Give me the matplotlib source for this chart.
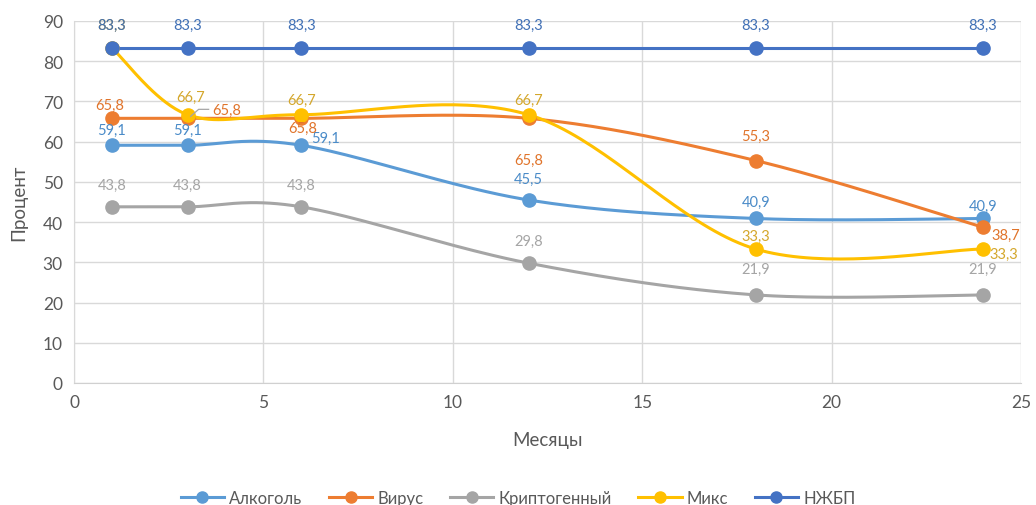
import numpy as np
import matplotlib
matplotlib.use("Agg")
import matplotlib.pyplot as plt
from matplotlib.lines import Line2D

plt.rcParams['font.family'] = ['Lato', 'DejaVu Sans']

# ---- data ----
months = [1, 3, 6, 12, 18, 24]
series_names = ["Алкоголь", "Вирус", "Криптогенный", "Микс", "НЖБП"]
alcohol = [59.1, 59.1, 59.1, 45.5, 40.9, 40.9]
virus = [65.8, 65.8, 65.8, 65.8, 55.3, 38.7]
cryptogenic = [43.8, 43.8, 43.8, 29.8, 21.9, 21.9]
mixed = [83.3, 66.7, 66.7, 66.7, 33.3, 33.3]
nafld = [83.3, 83.3, 83.3, 83.3, 83.3, 83.3]

line_colors = ["#5B9BD5", "#ED7D31", "#A5A5A5", "#FFC000", "#4472C4"]
label_colors = ["#4A8BC8", "#E0742B", "#A5A5A5", "#D4A72C", "#3F6FB5"]

# label offsets in pixels (dx, dy, horizontal alignment) per series / point
label_offsets = [
    [(0, 15, 'center'), (0, 15, 'center'), (10, 7, 'left'), (0, 21, 'center'), (0, 17, 'center'), (0, 13, 'center')],
    [(-2, 13, 'center'), (25, 8, 'left'), (1, -10, 'center'), (0, -42, 'center'), (0, 25, 'center'), (8, -8, 'left')],
    [(0, 22, 'center'), (0, 22, 'center'), (0, 22, 'center'), (0, 22, 'center'), (0, 26, 'center'), (0, 26, 'center')],
    [(0, 23, 'center'), (3, 18, 'center'), (0, 15, 'center'), (0, 15, 'center'), (0, 13, 'center'), (6, -5, 'left')],
    [(0, 23, 'center'), (0, 23, 'center'), (0, 23, 'center'), (0, 23, 'center'), (0, 23, 'center'), (0, 23, 'center')],
]


def smooth_curve(xs, ys, n=40):
    """Piecewise cubic Bezier through the points (Catmull-Rom style control points)."""
    P = np.column_stack([xs, ys]).astype(float)
    ext = np.vstack([P[0], P, P[-1]])
    out = []
    t = np.linspace(0, 1, n)[:, None]
    for i in range(len(P) - 1):
        p0, p3 = ext[i + 1], ext[i + 2]
        c1 = p0 + (ext[i + 2] - ext[i]) / 6.0
        c2 = p3 - (ext[i + 3] - ext[i + 1]) / 6.0
        seg = ((1 - t) ** 3) * p0 + 3 * ((1 - t) ** 2) * t * c1 + 3 * (1 - t) * t ** 2 * c2 + t ** 3 * p3
        out.append(seg if i == 0 else seg[1:])
    seg = np.vstack(out)
    return seg[:, 0], seg[:, 1]


fig = plt.figure(figsize=(10.36, 5.06), dpi=100)
ax = fig.add_axes([74 / 1036, 1 - 384 / 506, (1021 - 74) / 1036, (384 - 22) / 506])

ax.set_xlim(0, 25)
ax.set_ylim(0, 90)
ax.set_xticks(range(0, 26, 5))
ax.set_yticks(range(0, 91, 10))
ax.grid(True, color='#D9D9D9', lw=1)
ax.set_axisbelow(True)
for s in ['top', 'right']:
    ax.spines[s].set_visible(False)
ax.spines['left'].set_color('#D9D9D9')
ax.spines['bottom'].set_color('#D0D0D0')
ax.tick_params(length=0, labelsize=12.5, colors='#595959', pad=8)
ax.set_xlabel("Месяцы", fontsize=13.5, color='#595959', labelpad=15)
ax.set_ylabel("Процент", fontsize=13.5, color='#595959', labelpad=11)

all_series = [alcohol, virus, cryptogenic, mixed, nafld]
px = 72 / 100  # pixels -> points

for vals, col in zip(all_series, line_colors):
    sx, sy = smooth_curve(months, vals)
    ax.plot(sx, sy, color=col, lw=2.2, solid_capstyle='round', zorder=3)
    ax.plot(months, vals, 'o', color=col, ms=9.5, zorder=4)

for vals, col, offs in zip(all_series, label_colors, label_offsets):
    for x, v, (dx, dy, ha) in zip(months, vals, offs):
        ax.annotate(f"{v:.1f}".replace('.', ','), (x, v), xytext=(dx * px, dy * px),
                    textcoords='offset points', ha=ha, va='center',
                    fontsize=10.5, color=col, zorder=6)

# leader line for the shifted "Вирус" label at month 3 (pixel offsets from the marker centre)
base = ax.transData
anchor = base.transform((months[1], virus[1]))
leader_px = np.array([[3, 2], [11, 9], [21, 9]])
leader = base.inverted().transform(anchor + leader_px)
ax.plot(leader[:, 0], leader[:, 1], color='#A6A6A6', lw=0.9, zorder=5)

handles = [Line2D([0], [0], color=c, lw=2.2, marker='o', ms=8) for c in line_colors]
fig.legend(handles, series_names, loc='center', bbox_to_anchor=(0.5, 1 - 499 / 506),
           ncol=5, frameon=False, fontsize=12, handlelength=2.6, columnspacing=1.6,
           handletextpad=0.3, labelcolor='#595959')

fig.savefig("out.png", dpi=100)
